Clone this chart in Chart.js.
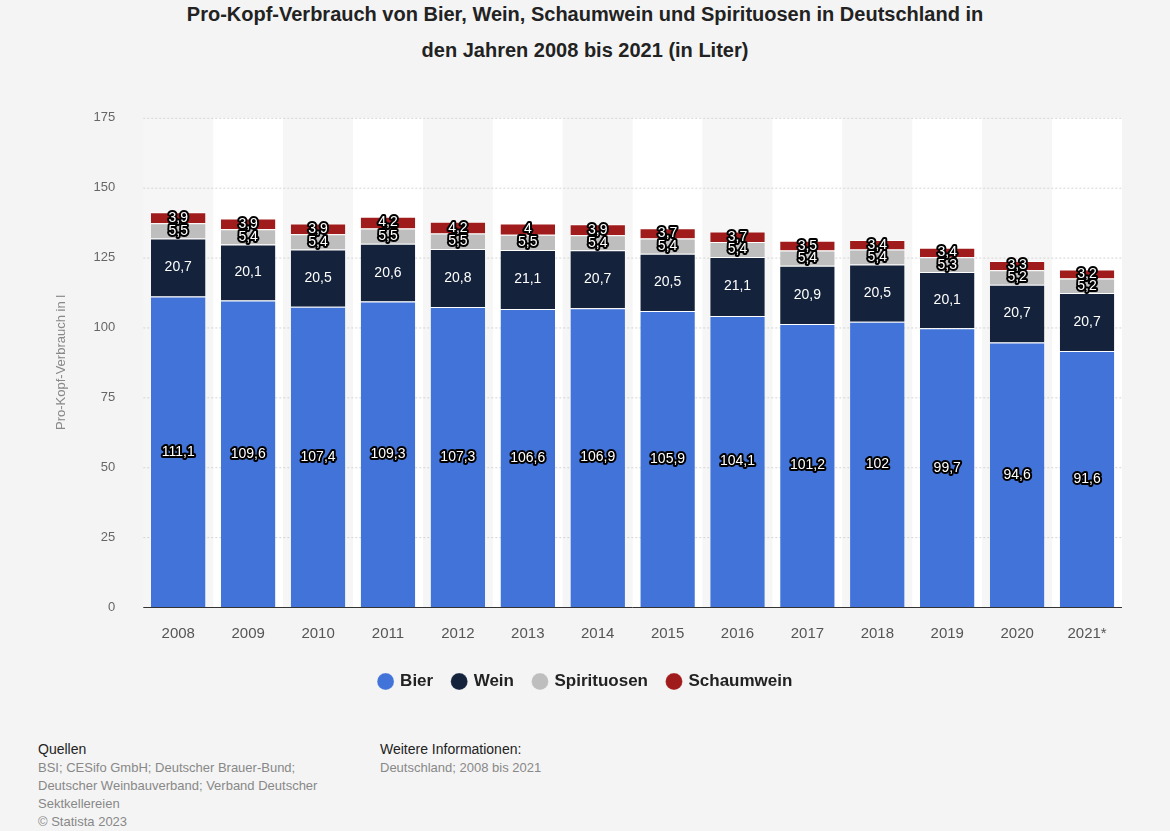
<!DOCTYPE html>
<html><head><meta charset="utf-8">
<script src="https://cdn.jsdelivr.net/npm/chart.js@4"></script>
<style>
body{margin:0;background:#f4f4f4;font-family:"Liberation Sans",Arial,sans-serif;width:1170px;height:831px;position:relative;overflow:hidden}
#title{position:absolute;top:-4px;left:0;width:1170px;text-align:center;font-weight:bold;font-size:20px;line-height:36px;color:#222}
#wrap{position:absolute;top:90px;left:0;width:1170px;height:620px}
.f{position:absolute;font-size:13px;color:#888;line-height:18px}
.f b{color:#222;font-weight:normal;font-size:14px}
</style></head><body>
<div id="title">Pro-Kopf-Verbrauch von Bier, Wein, Schaumwein und Spirituosen in Deutschland in<br>den Jahren 2008 bis 2021 (in Liter)</div>
<div id="wrap"><canvas id="c" width="1170" height="620" style="width:1170px;height:620px"></canvas></div>
<div class="f" style="left:38px;top:740px"><b>Quellen</b><br>BSI; CESifo GmbH; Deutscher Brauer-Bund;<br>Deutscher Weinbauverband; Verband Deutscher<br>Sektkellereien<br>© Statista 2023</div>
<div class="f" style="left:380px;top:740px"><b>Weitere Informationen:</b><br>Deutschland; 2008 bis 2021</div>
<script>
const years=["2008","2009","2010","2011","2012","2013","2014","2015","2016","2017","2018","2019","2020","2021*"];
const bier=[111.1,109.6,107.4,109.3,107.3,106.6,106.9,105.9,104.1,101.2,102,99.7,94.6,91.6];
const wein=[20.7,20.1,20.5,20.6,20.8,21.1,20.7,20.5,21.1,20.9,20.5,20.1,20.7,20.7];
const spirit=[5.5,5.4,5.4,5.5,5.5,5.5,5.4,5.4,5.4,5.4,5.4,5.3,5.2,5.2];
const schaum=[3.9,3.9,3.9,4.2,4.2,4,3.9,3.7,3.7,3.5,3.4,3.4,3.3,3.2];
const yTicks=[0,25,50,75,100,125,150,175];
const fmt=v=>String(v).replace('.',',');
const bands={id:'bands',beforeDatasetsDraw(ch){const {ctx,chartArea:a,scales:{x}}=ch;const w=(x.getPixelForValue(1)-x.getPixelForValue(0));ctx.save();years.forEach((y,i)=>{ctx.fillStyle=i%2?'#ffffff':'#f6f6f6';ctx.fillRect(x.getPixelForValue(i)-w/2,a.top,w,a.bottom-a.top);});
ctx.strokeStyle='#d4d4d4';ctx.setLineDash([2,2]);yTicks.slice(1).forEach(t=>{const p=ch.scales.y.getPixelForValue(t);ctx.beginPath();ctx.moveTo(a.left,p+0.5);ctx.lineTo(a.right,p+0.5);ctx.stroke();});ctx.setLineDash([]);ctx.strokeStyle='#333';ctx.beginPath();ctx.moveTo(a.left,a.bottom+0.5);ctx.lineTo(a.right,a.bottom+0.5);ctx.stroke();ctx.restore();}};
const labels={id:'labels',afterDatasetsDraw(ch){const ctx=ch.ctx;ctx.save();ctx.font='14px "Liberation Sans",Arial';ctx.textAlign='center';ctx.textBaseline='middle';ctx.lineJoin='round';
ch.data.datasets.forEach((ds,di)=>{ch.getDatasetMeta(di).data.forEach((el,i)=>{const y=(el.y+el.base)/2;const t=fmt(ds.data[i]);if(di!==1){ctx.strokeStyle='#000';ctx.lineWidth=4;ctx.strokeText(t,el.x,y);}ctx.fillStyle='#fff';ctx.fillText(t,el.x,y);});});ctx.restore();}};
new Chart(document.getElementById('c'),{type:'bar',
data:{labels:years,datasets:[
{label:'Bier',data:bier,backgroundColor:'#4273d9'},
{label:'Wein',data:wein,backgroundColor:'#14233b'},
{label:'Spirituosen',data:spirit,backgroundColor:'#bebebe'},
{label:'Schaumwein',data:schaum,backgroundColor:'#a01c1c'}].map(d=>Object.assign(d,{borderColor:'#fff',borderWidth:{top:1},categoryPercentage:1,barPercentage:0.78}))},
options:{responsive:false,animation:false,devicePixelRatio:1,
layout:{padding:{left:50,right:48,top:18,bottom:10}},
plugins:{legend:{position:'bottom',labels:{usePointStyle:true,pointStyle:'circle',boxWidth:12,boxHeight:12,padding:20,color:'#222',font:{size:17,weight:'bold',family:'"Liberation Sans",Arial'}}},tooltip:{enabled:false}},
scales:{x:{stacked:true,grid:{display:false},border:{display:false},ticks:{color:'#555',font:{size:15},padding:10,maxRotation:0,autoSkip:false}},
y:{stacked:true,min:0,max:175,afterBuildTicks:s=>{s.ticks=yTicks.map(v=>({value:v}));},grid:{display:false},border:{display:false},
ticks:{color:'#666',font:{size:13},padding:20},title:{display:true,text:'Pro-Kopf-Verbrauch in l',color:'#888',font:{size:13}}}}},
plugins:[bands,labels]});
</script></body></html>
